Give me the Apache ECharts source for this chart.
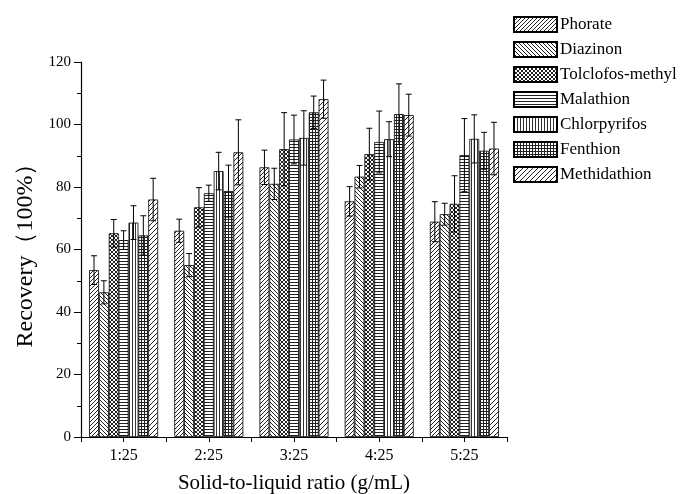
<!DOCTYPE html>
<html>
<head>
<meta charset="utf-8">
<script src="https://cdn.jsdelivr.net/npm/echarts@6/dist/echarts.min.js"></script>
<style>
  html, body { margin: 0; padding: 0; background: #fff; }
  #chart { width: 682px; height: 494px; }
</style>
</head>
<body>
<div id="chart"></div>
<script>
// ratio groups on the x axis
const categories = ['1:25', '2:25', '3:25', '4:25', '5:25'];
const seriesNames = ['Phorate', 'Diazinon', 'Tolclofos-methyl', 'Malathion', 'Chlorpyrifos', 'Fenthion', 'Methidathion'];

// mean recovery (%) per pesticide
const phorate      = [53.4, 66.0, 86.3, 75.4, 68.9];
const diazinon     = [46.3, 55.0, 81.0, 83.3, 71.3];
const tolclofos    = [65.2, 73.5, 92.1, 90.5, 74.6];
const malathion    = [63.0, 78.0, 95.2, 94.4, 90.2];
const chlorpyrifos = [68.6, 85.1, 95.7, 95.3, 95.4];
const fenthion     = [64.5, 78.7, 103.9, 103.3, 91.6];
const methidathion = [76.0, 91.1, 108.1, 103.0, 92.3];

// standard deviations (error bars)
const phorateErr      = [4.6, 3.7, 5.5, 4.7, 6.4];
const diazinonErr     = [3.7, 3.7, 5.0, 3.6, 3.5];
const tolclofosErr    = [4.4, 6.3, 11.7, 8.3, 9.0];
const malathionErr    = [3.0, 2.6, 7.8, 9.9, 11.7];
const chlorpyrifosErr = [5.4, 6.0, 8.7, 5.6, 7.7];
const fenthionErr     = [6.3, 8.3, 5.2, 9.7, 5.9];
const methidathionErr = [6.8, 10.4, 6.1, 6.7, 8.4];

const yTicks = [0, 20, 40, 60, 80, 100, 120];

const allValues = [phorate, diazinon, tolclofos, malathion, chlorpyrifos, fenthion, methidathion];
const allErrs = [phorateErr, diazinonErr, tolclofosErr, malathionErr, chlorpyrifosErr, fenthionErr, methidathionErr];

// hatch tiles, drawn on small canvases
function makeTile(size, draw) {
  const c = document.createElement('canvas');
  c.width = size; c.height = size;
  const ctx = c.getContext('2d');
  ctx.fillStyle = '#fff';
  ctx.fillRect(0, 0, size, size);
  ctx.strokeStyle = '#222';
  ctx.lineWidth = 1;
  draw(ctx, size);
  return { image: c, repeat: 'repeat' };
}
function slash(ctx, s) {
  ctx.beginPath();
  ctx.moveTo(-1, s + 1); ctx.lineTo(s + 1, -1);
  ctx.moveTo(-1, 1); ctx.lineTo(1, -1);
  ctx.moveTo(s - 1, s + 1); ctx.lineTo(s + 1, s - 1);
  ctx.stroke();
}
function backslash(ctx, s) {
  ctx.beginPath();
  ctx.moveTo(-1, -1); ctx.lineTo(s + 1, s + 1);
  ctx.moveTo(s - 1, -1); ctx.lineTo(s + 1, 1);
  ctx.moveTo(-1, s - 1); ctx.lineTo(1, s + 1);
  ctx.stroke();
}
const patterns = [
  makeTile(4, slash),
  makeTile(4, backslash),
  makeTile(4, (ctx, s) => { slash(ctx, s); backslash(ctx, s); }),
  makeTile(3, (ctx, s) => {
    ctx.fillStyle = '#222';
    ctx.fillRect(0, 0, s, 1);
  }),
  makeTile(3, (ctx, s) => {
    ctx.fillStyle = '#333';
    ctx.fillRect(0, 0, 1, s);
  }),
  makeTile(3, (ctx, s) => {
    ctx.fillStyle = '#222';
    ctx.fillRect(0, 0, s, 1);
    ctx.fillRect(0, 0, 1, s);
  }),
  makeTile(5, slash)
];

const gapRatio = 0.81; // share of the category band that the bars cover

const barSeries = seriesNames.map((name, i) => ({
  name: name,
  type: 'bar',
  barGap: '0%',
  barCategoryGap: '19%',
  data: allValues[i],
  itemStyle: {
    color: patterns[i],
    borderColor: '#000',
    borderWidth: 0.8
  },
  emphasis: { disabled: true }
}));

const errSeries = seriesNames.map((name, i) => ({
  name: name + ' err',
  type: 'custom',
  z: 5,
  data: allValues[i].map((v, k) => [k, v - allErrs[i][k], v + allErrs[i][k]]),
  renderItem: (params, api) => {
    const k = api.value(0);
    const hi = api.coord([k, api.value(2)]);
    const lo = api.coord([k, api.value(1)]);
    const band = api.size([1, 0])[0];
    const bw = band * gapRatio / seriesNames.length;
    const x = hi[0] - band * gapRatio / 2 + bw * (i + 0.5);
    const cap = bw * 0.3;
    const style = { stroke: '#000', lineWidth: 1 };
    return {
      type: 'group',
      children: [
        { type: 'line', shape: { x1: x, y1: lo[1], x2: x, y2: hi[1] }, style: style },
        { type: 'line', shape: { x1: x - cap, y1: hi[1], x2: x + cap, y2: hi[1] }, style: style },
        { type: 'line', shape: { x1: x - cap, y1: lo[1], x2: x + cap, y2: lo[1] }, style: style }
      ]
    };
  }
}));

const chart = echarts.init(document.getElementById('chart'));
const font = '"Liberation Serif", "Times New Roman", serif';

const option = {
  backgroundColor: '#fff',
  animation: false,
  textStyle: { fontFamily: font, color: '#000' },
  legend: {
    data: seriesNames,
    orient: 'vertical',
    left: 513,
    top: 16,
    padding: 0,
    itemWidth: 43,
    itemHeight: 15,
    itemGap: 8,
    selectedMode: false,
    icon: 'rect',
    textStyle: { fontFamily: font, fontSize: 17, color: '#000', padding: [0, 0, 0, -2] }
  },
  grid: { left: 81, right: 175, top: 62, bottom: 57, containLabel: false, outerBoundsMode: 'none' },
  xAxis: [
    {
      type: 'category',
      data: categories,
      name: 'Solid-to-liquid ratio (g/mL)',
      nameLocation: 'middle',
      nameGap: 36,
      nameTextStyle: { fontFamily: font, fontSize: 21, color: '#000' },
      axisLine: { lineStyle: { color: '#000', width: 1.2 } },
      axisTick: { show: true, length: 5, lineStyle: { color: '#000' } },
      axisLabel: { fontFamily: font, fontSize: 16, color: '#000', margin: 11 },
      splitLine: { show: false }
    },
    {
      type: 'category',
      data: categories,
      position: 'bottom',
      axisLine: { show: false },
      axisTick: { show: true, alignWithLabel: true, length: 5, lineStyle: { color: '#000' } },
      axisLabel: { show: false },
      splitLine: { show: false }
    }
  ],
  yAxis: {
    type: 'value',
    min: yTicks[0],
    max: yTicks[yTicks.length - 1],
    interval: 20,
    name: 'Recovery（100%）',
    nameLocation: 'middle',
    nameGap: 42,
    nameTextStyle: { fontFamily: font, fontSize: 24, color: '#000' },
    axisLine: { show: true, lineStyle: { color: '#000', width: 1.2 } },
    axisTick: { show: true, length: 7, lineStyle: { color: '#000' } },
    minorTick: { show: true, splitNumber: 2, length: 4, lineStyle: { color: '#000' } },
    axisLabel: { fontFamily: font, fontSize: 15, color: '#000', margin: 10 },
    splitLine: { show: false }
  },
  series: barSeries.concat(errSeries)
};

chart.setOption(option);
</script>
</body>
</html>
